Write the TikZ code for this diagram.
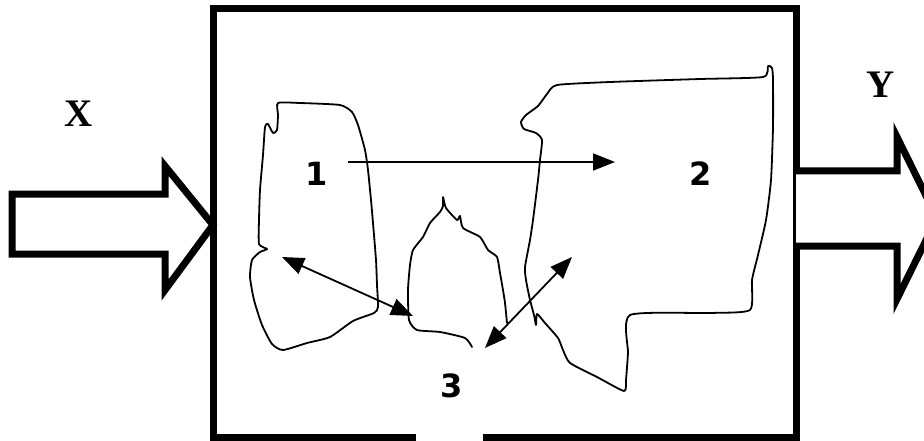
\documentclass[tikz,border=0pt]{standalone}
\usepackage{fontspec}
\setmainfont{Liberation Serif}
\newfontfamily\digitfont{DejaVu Sans}
\usetikzlibrary{arrows.meta}
\tikzset{
  frame/.style={line width=7pt, line join=miter, line cap=butt},
  fatarrow/.style={line width=7pt, line join=miter, fill=white},
  region/.style={line width=1.8pt, line join=round, line cap=round},
  link/.style={line width=1.8pt, -{Triangle[length=22pt,width=17pt]}},
  dlink/.style={line width=1.8pt, {Triangle[length=22pt,width=17pt]}-{Triangle[length=22pt,width=17pt]}},
  digit/.style={font=\digitfont\bfseries\fontsize{32}{32}\selectfont, inner sep=0pt},
  io/.style={font=\bfseries\fontsize{39}{39}\selectfont, inner sep=0pt}
}
\begin{document}
\begin{tikzpicture}[x=1pt,y=-1pt]
\useasboundingbox (0,0) rectangle (924,441);
\begin{scope}
\clip (0,0) rectangle (924,441);
% box with gap at bottom
\draw[frame] (416,437) -- (213,437) -- (213,9) -- (796,9) -- (796,437) -- (483,437);
% input arrow
\draw[fatarrow] (12,194) -- (165,194) -- (165,166) -- (213,225) -- (165,290) -- (165,254) -- (12,254) -- cycle;
% output arrow
\draw[fatarrow] (796,171) -- (897,171) -- (897,137) -- (937,218) -- (897,299) -- (897,246) -- (796,246);
% region 1
\draw[region] plot[smooth cycle, tension=0.35] coordinates {
 (278,103) (300,103) (340,105) (352,112) (358,125) (365,150) (368,170) (371,200)
 (373,223) (376,260) (377,285) (378,307) (374,313) (353,321) (330,337) (307,343)
 (283,350) (272,344) (262,325) (254,300) (250,277) (252,260) (260,252) (267,249)
 (259,244) (259,220) (260,190) (263,155) (265,127) (268,124) (273,133) (277,130) (278,115)};
% region 3
\draw[region] plot[smooth, tension=0.35] coordinates {
 (472,347) (465,338) (440,332) (417,330) (409,320) (408,290) (410,265) (413,250)
 (423,237) (430,223) (440,212) (443,206) (443,197) (446,208) (457,220) (460,216)
 (463,228) (480,237) (488,250) (497,257) (500,273) (503,290) (505,303) (507,323)};
% region 2
\draw[region] plot[smooth cycle, tension=0.35] coordinates {
 (557,85) (610,82) (700,79) (763,77) (768,66) (772,68) (773,80) (773,127)
 (771,180) (766,220) (758,255) (752,280) (750,310) (710,313) (630,315) (628,353)
 (626,380) (624,391) (597,377) (570,363) (563,350) (558,338) (545,323) (537,314)
 (536,325) (534,315) (530,300) (526,280) (525,267) (530,240) (533,220) (538,180)
 (540,160) (542,140) (536,133) (524,129) (521,122) (526,115) (538,106) (547,94)};
\end{scope}
% labels
\node[digit] (n1) at (317,174) {1};
\node[digit] (n2) at (701,174) {2};
\node[digit] (n3) at (452,386) {3};
\node[io] (lx) at (79,114) {X};
\node[io] (ly) at (881,85) {Y};
% connectors
\coordinate (a1s) at (348,162);
\coordinate (a1e) at (615,162);
\coordinate (a2s) at (282,257);
\coordinate (a2e) at (413,316);
\coordinate (a3s) at (485,348);
\coordinate (a3e) at (572,257);
\draw[link] (a1s) -- (a1e);
\draw[dlink] (a2s) -- (a2e);
\draw[dlink] (a3s) -- (a3e);
\end{tikzpicture}
\end{document}
